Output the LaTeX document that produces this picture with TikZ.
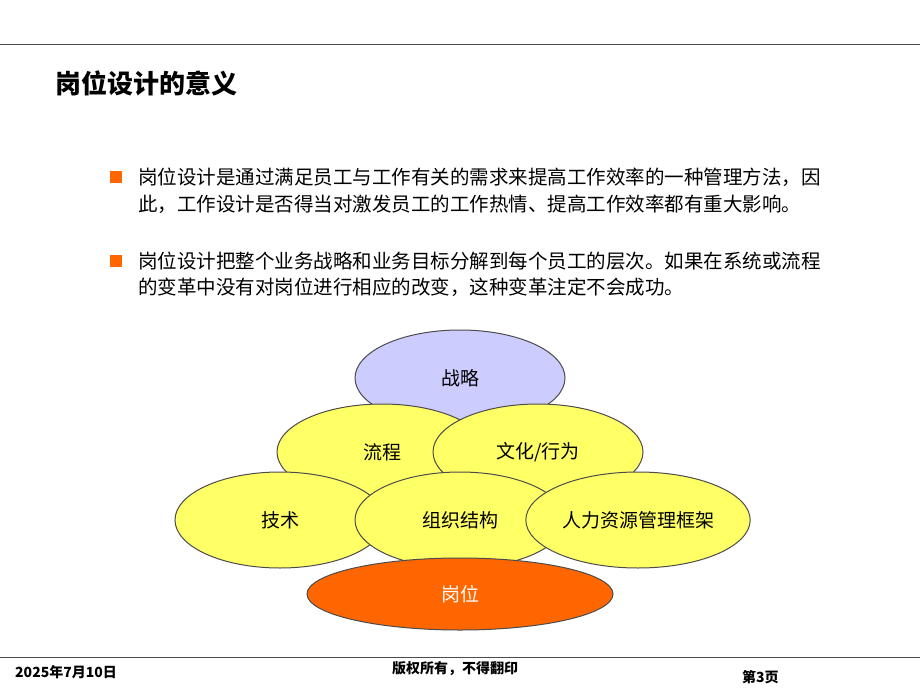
\documentclass[tikz,border=0pt]{standalone}
\usepackage{fontspec}
\setmainfont{Liberation Sans}
\newfontfamily\cjk{Noto Sans CJK SC}
\usetikzlibrary{shapes.geometric}
\definecolor{lav}{HTML}{CCCCFF}
\definecolor{yel}{HTML}{FFFF66}
\definecolor{org}{HTML}{FF6600}
\definecolor{bul}{HTML}{FF6600}
\tikzset{
 ell/.style={ellipse,draw=black!70,line width=1pt,minimum width=210pt,minimum height=96pt,font=\cjk\fontsize{19}{19}\selectfont},
 txt/.style={anchor=west,inner sep=0,font=\cjk\fontsize{19.5}{20}\selectfont},
 foot/.style={inner sep=0,font=\cjk\bfseries\fontsize{14}{14}\selectfont}
}
\begin{document}
\begin{tikzpicture}[x=1pt,y=-1pt]
\useasboundingbox (0,0) rectangle (920,690);
\fill[white] (0,0) rectangle (920,690);
\draw[black!70,line width=0.8pt] (0,44) -- (920,44);
\node[anchor=west,inner sep=0,font=\cjk\bfseries\fontsize{26}{26}\selectfont] (title) at (55,83) {岗位设计的意义};
\fill[bul] (110,171) rectangle (122,183);
\node[txt] (l1) at (138,177) {岗位设计是通过满足员工与工作有关的需求来提高工作效率的一种管理方法，因};
\node[txt] (l2) at (138,204) {此，工作设计是否得当对激发员工的工作热情、提高工作效率都有重大影响。};
\fill[bul] (110,255) rectangle (122,267);
\node[txt] (l3) at (138,261) {岗位设计把整个业务战略和业务目标分解到每个员工的层次。如果在系统或流程};
\node[txt] (l4) at (138,287) {的变革中没有对岗位进行相应的改变，这种变革注定不会成功。};
\node[ell,fill=lav] (zl) at (460,378) {战略};
\node[ell,fill=yel] (lc) at (382,452) {流程};
\node[ell,fill=yel] (wh) at (538,452) {文化/行为};
\node[ell,fill=yel] (js) at (280,520) {技术};
\node[ell,fill=yel] (zz) at (460,520) {组织结构};
\node[ell,fill=yel] (rl) at (638,520) {人力资源管理框架};
\node[ell,fill=org,minimum width=306pt,minimum height=72pt,text=white] (gw) at (460,594) {岗位};
\draw[black!70,line width=0.8pt] (0,657) -- (920,657);
\node[foot,anchor=west] (d) at (15,672) {2025年7月10日};
\node[foot] (c) at (455,669) {版权所有，不得翻印};
\node[foot,anchor=west] (p) at (742,677) {第3页};
\end{tikzpicture}
\end{document}
